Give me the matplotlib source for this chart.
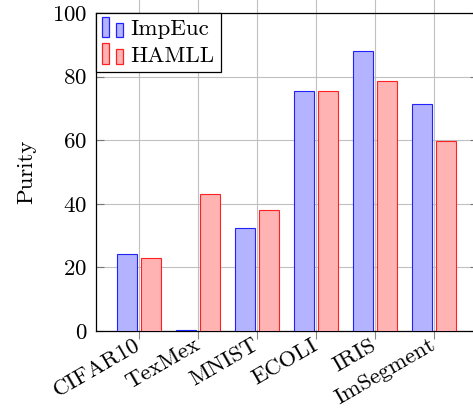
import numpy as np
import matplotlib
matplotlib.use('Agg')
import matplotlib.pyplot as plt
from matplotlib.patches import Rectangle
from matplotlib.legend_handler import HandlerBase

plt.rcParams['font.family'] = 'serif'
plt.rcParams['font.serif'] = ['cmr10', 'DejaVu Serif']
plt.rcParams['mathtext.fontset'] = 'cm'
plt.rcParams['axes.formatter.use_mathtext'] = True

# --- data ---
datasets = ['CIFAR10', 'TexMex', 'MNIST', 'ECOLI', 'IRIS', 'ImSegment']
impeuc = [24.3, 0.3, 32.4, 75.6, 88.0, 71.4]
hamll = [23.0, 43.0, 38.0, 75.6, 78.7, 59.9]
series_names = ['ImpEuc', 'HAMLL']
y_ticks = [0, 20, 40, 60, 80, 100]

BLUE_FILL, BLUE_EDGE = '#b3b3ff', '#2222ff'
RED_FILL, RED_EDGE = '#ffb3b3', '#ff2222'
GRID = '#c0c0c0'
FS = 16.5


class TwoBarHandler(HandlerBase):
    # pgfplots style ybar legend image: two little bars of different height
    def create_artists(self, legend, orig, xd, yd, w, h, fontsize, trans):
        p = orig.patches[0]
        fc = p.get_facecolor()
        ec = p.get_edgecolor()
        bw = w * 0.3
        r1 = Rectangle((xd, yd - 0.1 * h), bw, h * 1.25, fc=fc, ec=ec, lw=0.9, transform=trans)
        r2 = Rectangle((xd + w * 0.62, yd - 0.1 * h), bw, h * 0.9, fc=fc, ec=ec, lw=0.9, transform=trans)
        return [r1, r2]


fig = plt.figure(figsize=(4.73, 4.09), dpi=100)
ax = fig.add_axes([95.5 / 473, 78 / 409, 382 / 473, 318 / 409])

x = np.arange(len(datasets))
bw = 0.33
off = 0.2
b1 = ax.bar(x - off, impeuc, bw, color=BLUE_FILL, edgecolor=BLUE_EDGE, linewidth=0.8,
            label=series_names[0], zorder=3)
b2 = ax.bar(x + off, hamll, bw, color=RED_FILL, edgecolor=RED_EDGE, linewidth=0.8,
            label=series_names[1], zorder=3)

ax.set_xlim(-0.737, len(datasets) - 1 + 0.737)
ax.set_ylim(0, 100)
ax.set_yticks(y_ticks)
ax.set_xticks(x)
ax.set_xticklabels(datasets, rotation=30, ha='right', va='center', rotation_mode='anchor')
for lab in ax.get_xticklabels():
    lab.set_fontsize(FS)
for lab in ax.get_yticklabels():
    lab.set_fontsize(FS)

ax.grid(True, color=GRID, linewidth=0.8, zorder=0)
ax.set_axisbelow(True)
ax.tick_params(axis='x', direction='out', length=6, width=0.8, color='#888888', pad=3,
               top=False, bottom=True)
ax.tick_params(axis='y', direction='in', length=5.5, width=0.8, color='#777777', pad=6,
               left=True, right=True)
for s in ax.spines.values():
    s.set_linewidth(0.9)
    s.set_color('black')

top = ax.secondary_xaxis('top')
top.set_xticks(x)
top.set_xticklabels([])
top.tick_params(direction='out', length=11, width=0.8, color=GRID)
top.spines['top'].set_visible(False)

ax.set_ylabel('Purity', fontsize=FS, labelpad=11)

leg = ax.legend(handles=[b1, b2], labels=series_names, loc='upper left', fontsize=FS,
                handler_map={type(b1): TwoBarHandler()},
                handlelength=1.0, handletextpad=0.25, borderaxespad=0, borderpad=0.28,
                labelspacing=0.28, frameon=True, fancybox=False, edgecolor='black',
                framealpha=1)
leg.get_frame().set_linewidth(0.9)
leg.set_zorder(5)

fig.savefig('out.png', dpi=100)
